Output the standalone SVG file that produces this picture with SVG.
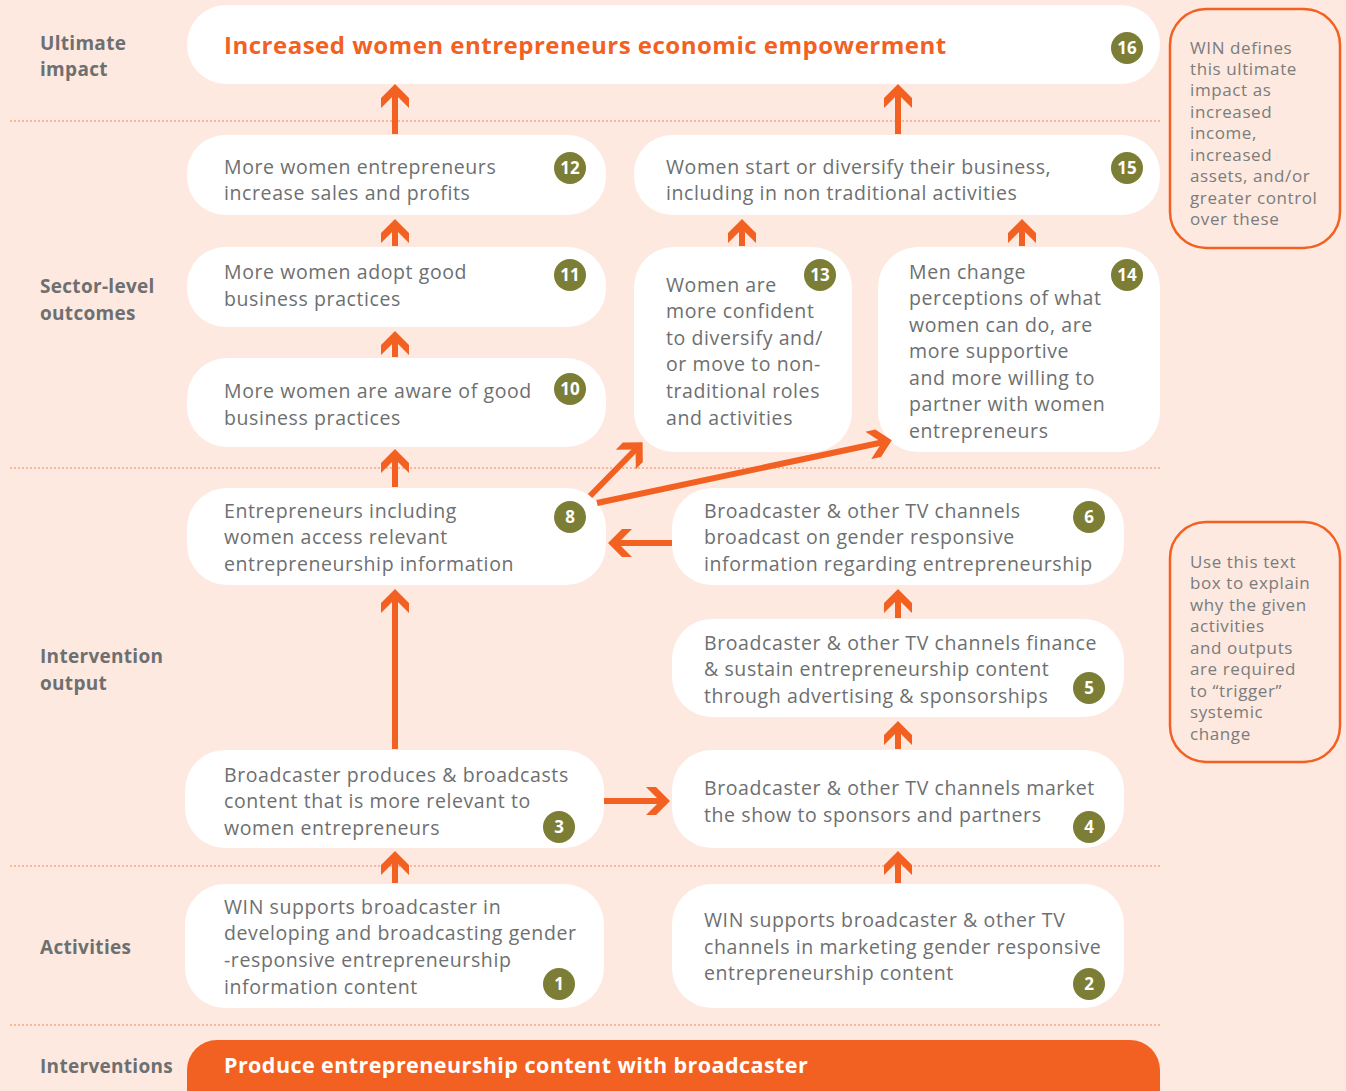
<svg xmlns="http://www.w3.org/2000/svg" width="1346" height="1091" viewBox="0 0 1346 1091">
<defs>
<style>
.bg{fill:#FDE9DF}
.box{fill:#FFFFFF}
.sep{stroke:#F4875A;stroke-width:1.2;stroke-dasharray:2 2;fill:none}
.t{font-family:"Open Sans","Liberation Sans",sans-serif;font-size:19.5px;letter-spacing:0.6px;fill:#6D6F70}
.lab{font-family:"Open Sans","Liberation Sans",sans-serif;font-size:19px;letter-spacing:0.3px;font-weight:bold;fill:#6D6F70}
.note{font-family:"Open Sans","Liberation Sans",sans-serif;font-size:17px;letter-spacing:0.6px;fill:#7A7C7D}
.nb{fill:none;stroke:#F26122;stroke-width:2.5}
.bd{fill:#7B7E34}
.bn{font-family:"Open Sans","Liberation Sans",sans-serif;font-size:17px;font-weight:bold;fill:#FFFFFF;text-anchor:middle}
.title{font-family:"Open Sans","Liberation Sans",sans-serif;font-size:24px;letter-spacing:0.5px;font-weight:bold;fill:#F26122}
.int{font-family:"Open Sans","Liberation Sans",sans-serif;font-size:21.5px;letter-spacing:0.43px;font-weight:bold;fill:#FFFFFF}
.ar{fill:none;stroke:#F26122;stroke-width:6}
</style>
<marker id="ah" viewBox="-20 -20 40 40" markerWidth="40" markerHeight="40" refX="0" refY="0" orient="auto" markerUnits="userSpaceOnUse">
<polygon points="8,0 -6,-14 -16,-14 -2,0 -16,14 -6,14" fill="#F26122"/>
</marker>
</defs>
<rect class="bg" x="0" y="0" width="1346" height="1091"/>
<g id="separators">
<line class="sep" x1="10" y1="121" x2="1162" y2="121"/>
<line class="sep" x1="10" y1="468" x2="1162" y2="468"/>
<line class="sep" x1="10" y1="866" x2="1162" y2="866"/>
<line class="sep" x1="10" y1="1025" x2="1162" y2="1025"/>
</g>
<g id="labels">
<text class="lab" x="40" y="50">Ultimate</text>
<text class="lab" x="40" y="76">impact</text>
<text class="lab" x="40" y="293">Sector-level</text>
<text class="lab" x="40" y="320">outcomes</text>
<text class="lab" x="40" y="663">Intervention</text>
<text class="lab" x="40" y="690">output</text>
<text class="lab" x="40" y="954">Activities</text>
<text class="lab" x="40" y="1073">Interventions</text>
</g>
<g id="n16">
<rect class="box" x="187" y="5" width="973" height="79" rx="39"/>
<text class="title" x="224" y="54">Increased women entrepreneurs economic empowerment</text>
<circle class="bd" cx="1127" cy="48" r="16"/><text class="bn" x="1127" y="54">16</text>
</g>
<g id="n12">
<rect class="box" x="187" y="135" width="419" height="80" rx="38"/>
<text class="t" x="224" y="174">More women entrepreneurs</text>
<text class="t" x="224" y="200">increase sales and profits</text>
<circle class="bd" cx="570" cy="168" r="16"/><text class="bn" x="570" y="174">12</text>
</g>
<g id="n15">
<rect class="box" x="634" y="135" width="526" height="80" rx="38"/>
<text class="t" x="666" y="174">Women start or diversify their business,</text>
<text class="t" x="666" y="200">including in non traditional activities</text>
<circle class="bd" cx="1127" cy="168" r="16"/><text class="bn" x="1127" y="174">15</text>
</g>
<g id="n11">
<rect class="box" x="187" y="247" width="419" height="80" rx="38"/>
<text class="t" x="224" y="279">More women adopt good</text>
<text class="t" x="224" y="306">business practices</text>
<circle class="bd" cx="570" cy="275" r="16"/><text class="bn" x="570" y="281">11</text>
</g>
<g id="n10">
<rect class="box" x="187" y="358" width="419" height="89" rx="40"/>
<text class="t" x="224" y="398">More women are aware of good</text>
<text class="t" x="224" y="425">business practices</text>
<circle class="bd" cx="570" cy="389" r="16"/><text class="bn" x="570" y="395">10</text>
</g>
<g id="n13">
<rect class="box" x="634" y="247" width="218" height="205" rx="40"/>
<text class="t" x="666" y="292">Women are</text>
<text class="t" x="666" y="318">more confident</text>
<text class="t" x="666" y="345">to diversify and/</text>
<text class="t" x="666" y="371">or move to non-</text>
<text class="t" x="666" y="398">traditional roles</text>
<text class="t" x="666" y="425">and activities</text>
<circle class="bd" cx="820" cy="275" r="16"/><text class="bn" x="820" y="281">13</text>
</g>
<g id="n14">
<rect class="box" x="878" y="247" width="282" height="205" rx="40"/>
<text class="t" x="909" y="279">Men change</text>
<text class="t" x="909" y="305">perceptions of what</text>
<text class="t" x="909" y="332">women can do, are</text>
<text class="t" x="909" y="358">more supportive</text>
<text class="t" x="909" y="385">and more willing to</text>
<text class="t" x="909" y="411">partner with women</text>
<text class="t" x="909" y="438">entrepreneurs</text>
<circle class="bd" cx="1127" cy="275" r="16"/><text class="bn" x="1127" y="281">14</text>
</g>
<g id="n8">
<rect class="box" x="187" y="488" width="419" height="97" rx="40"/>
<text class="t" x="224" y="518">Entrepreneurs including</text>
<text class="t" x="224" y="544">women access relevant</text>
<text class="t" x="224" y="571">entrepreneurship information</text>
<circle class="bd" cx="570" cy="517" r="16"/><text class="bn" x="570" y="523">8</text>
</g>
<g id="n6">
<rect class="box" x="672" y="488" width="452" height="97" rx="40"/>
<text class="t" x="704" y="518">Broadcaster &amp; other TV channels</text>
<text class="t" x="704" y="544">broadcast on gender responsive</text>
<text class="t" x="704" y="571">information regarding entrepreneurship</text>
<circle class="bd" cx="1089" cy="517" r="16"/><text class="bn" x="1089" y="523">6</text>
</g>
<g id="n5">
<rect class="box" x="672" y="619" width="452" height="98" rx="40"/>
<text class="t" x="704" y="650">Broadcaster &amp; other TV channels finance</text>
<text class="t" x="704" y="676">&amp; sustain entrepreneurship content</text>
<text class="t" x="704" y="703">through advertising &amp; sponsorships</text>
<circle class="bd" cx="1089" cy="688" r="16"/><text class="bn" x="1089" y="694">5</text>
</g>
<g id="n3">
<rect class="box" x="185" y="750" width="419" height="98" rx="40"/>
<text class="t" x="224" y="782">Broadcaster produces &amp; broadcasts</text>
<text class="t" x="224" y="808">content that is more relevant to</text>
<text class="t" x="224" y="835">women entrepreneurs</text>
<circle class="bd" cx="559" cy="827" r="16"/><text class="bn" x="559" y="833">3</text>
</g>
<g id="n4">
<rect class="box" x="672" y="750" width="452" height="98" rx="40"/>
<text class="t" x="704" y="795">Broadcaster &amp; other TV channels market</text>
<text class="t" x="704" y="822">the show to sponsors and partners</text>
<circle class="bd" cx="1089" cy="827" r="16"/><text class="bn" x="1089" y="833">4</text>
</g>
<g id="n1">
<rect class="box" x="185" y="884" width="419" height="124" rx="40"/>
<text class="t" x="224" y="914">WIN supports broadcaster in</text>
<text class="t" x="224" y="940">developing and broadcasting gender</text>
<text class="t" x="224" y="967">-responsive entrepreneurship</text>
<text class="t" x="224" y="994">information content</text>
<circle class="bd" cx="559" cy="984" r="16"/><text class="bn" x="559" y="990">1</text>
</g>
<g id="n2">
<rect class="box" x="672" y="884" width="452" height="124" rx="40"/>
<text class="t" x="704" y="927">WIN supports broadcaster &amp; other TV</text>
<text class="t" x="704" y="954">channels in marketing gender responsive</text>
<text class="t" x="704" y="980">entrepreneurship content</text>
<circle class="bd" cx="1089" cy="984" r="16"/><text class="bn" x="1089" y="990">2</text>
</g>
<g id="intervention">
<rect x="187" y="1040" width="973" height="80" rx="30" fill="#F26122"/>
<text class="int" x="224" y="1073">Produce entrepreneurship content with broadcaster</text>
</g>
<g id="note1">
<rect class="nb" x="1170" y="9" width="170" height="239" rx="36"/>
<text class="note" x="1190" y="54">WIN defines</text>
<text class="note" x="1190" y="75">this ultimate</text>
<text class="note" x="1190" y="96">impact as</text>
<text class="note" x="1190" y="118">increased</text>
<text class="note" x="1190" y="139">income,</text>
<text class="note" x="1190" y="161">increased</text>
<text class="note" x="1190" y="182">assets, and/or</text>
<text class="note" x="1190" y="204">greater control</text>
<text class="note" x="1190" y="225">over these</text>
</g>
<g id="note2">
<rect class="nb" x="1170" y="522" width="170" height="240" rx="36"/>
<text class="note" x="1190" y="568">Use this text</text>
<text class="note" x="1190" y="589">box to explain</text>
<text class="note" x="1190" y="611">why the given</text>
<text class="note" x="1190" y="632">activities</text>
<text class="note" x="1190" y="654">and outputs</text>
<text class="note" x="1190" y="675">are required</text>
<text class="note" x="1190" y="697">to “trigger”</text>
<text class="note" x="1190" y="718">systemic</text>
<text class="note" x="1190" y="740">change</text>
</g>
<g id="connectors">
<path class="ar" marker-end="url(#ah)" d="M395,134 L395,92"/>
<path class="ar" marker-end="url(#ah)" d="M898,134 L898,92"/>
<path class="ar" marker-end="url(#ah)" d="M395,246 L395,227"/>
<path class="ar" marker-end="url(#ah)" d="M742,246 L742,227"/>
<path class="ar" marker-end="url(#ah)" d="M1022,246 L1022,227"/>
<path class="ar" marker-end="url(#ah)" d="M395,357 L395,339"/>
<path class="ar" marker-end="url(#ah)" d="M395,487 L395,457"/>
<path class="ar" marker-end="url(#ah)" d="M395,749 L395,597"/>
<path class="ar" marker-end="url(#ah)" d="M898,618 L898,597"/>
<path class="ar" marker-end="url(#ah)" d="M898,749 L898,729"/>
<path class="ar" marker-end="url(#ah)" d="M395,883 L395,859"/>
<path class="ar" marker-end="url(#ah)" d="M898,883 L898,859"/>
<path class="ar" marker-end="url(#ah)" d="M604,801 L662,801"/>
<path class="ar" marker-end="url(#ah)" d="M672,543 L616,543"/>
<path class="ar" marker-end="url(#ah)" d="M590,496 L637,448"/>
<path class="ar" marker-end="url(#ah)" d="M597,503 L884,442"/>
</g>
</svg>
